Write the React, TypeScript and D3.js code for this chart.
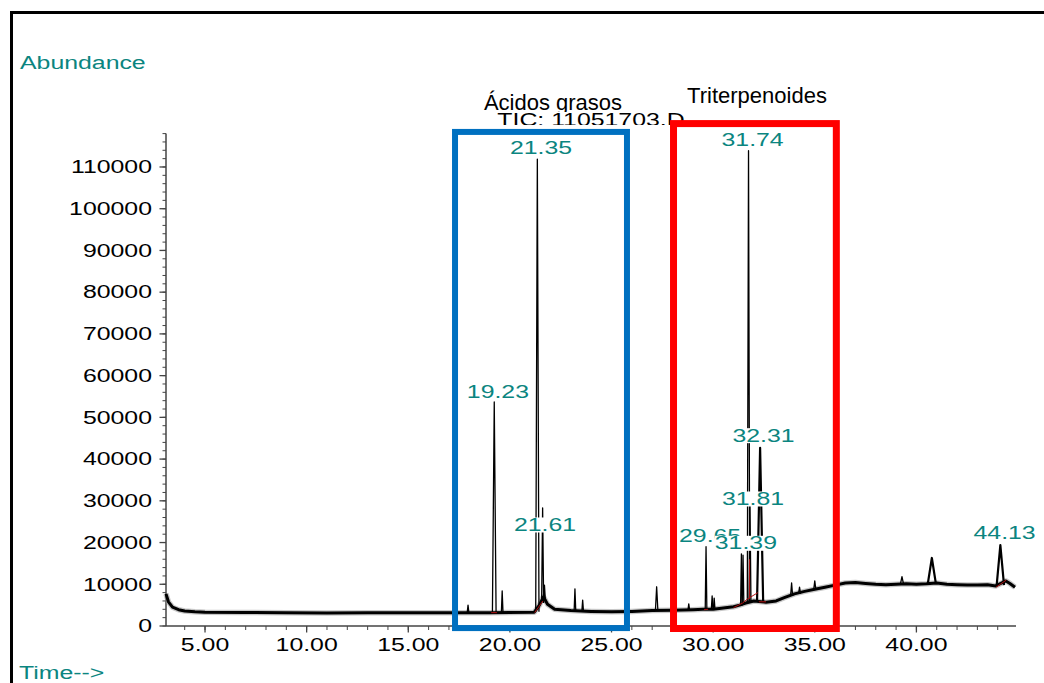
import React from 'react';
import * as d3 from 'd3';

// -- datos del cromatograma (min, abundancia)
const baseline: [number, number][] = [
  [3.08, 7700], [3.2, 5800], [3.4, 4500], [3.7, 3900], [4.0, 3600], [4.5, 3400],
  [5.0, 3300], [7.0, 3250], [9.0, 3150], [11.0, 3100], [13.0, 3150], [15.0, 3200],
  [17.0, 3200], [19.0, 3200], [21.2, 3300], [21.45, 5000], [21.65, 7000], [21.85, 5200],
  [22.2, 4000], [23.0, 3700], [24.0, 3500], [25.0, 3400], [26.0, 3500], [27.0, 3700],
  [28.0, 3800], [29.0, 3900], [29.5, 4000], [30.0, 4000], [30.5, 4300], [31.0, 4600],
  [31.3, 5000], [31.6, 5500], [32.0, 6000], [32.6, 5700], [33.1, 6000], [33.5, 6800],
  [34.0, 7700], [34.5, 8300], [35.0, 8800], [35.5, 9300], [36.0, 9800], [36.5, 10300],
  [37.0, 10400], [37.5, 10200], [38.0, 10000], [38.5, 9900], [39.0, 10000], [39.5, 10100],
  [40.0, 10000], [40.5, 10100], [41.0, 10300], [41.5, 10000], [42.0, 9900], [42.5, 9800],
  [43.0, 9800], [43.5, 9900], [43.9, 9600], [44.4, 10800], [44.6, 10200], [44.85, 9300],
];

// picos: [tiempo ret., abundancia max, nivel base, media anchura (min)]
const peaks: [number, number, number, number][] = [
  [17.94, 5000, 3200, 0.04], [19.23, 53700, 3200, 0.09], [19.62, 8400, 3200, 0.04],
  [21.35, 111900, 3400, 0.08], [21.61, 28300, 5500, 0.05], [21.7, 9800, 6500, 0.04],
  [23.2, 8900, 3600, 0.04], [23.58, 6200, 3500, 0.04], [27.22, 9400, 3700, 0.06],
  [28.8, 5300, 3800, 0.04], [29.65, 19000, 3900, 0.04], [29.95, 7200, 4000, 0.04],
  [30.05, 6700, 4000, 0.04], [31.39, 17300, 4900, 0.04], [31.47, 17000, 5100, 0.04],
  [31.74, 113900, 5600, 0.06], [31.81, 30000, 5800, 0.05], [32.31, 42700, 5900, 0.15],
  [33.86, 10300, 7200, 0.05], [34.25, 9300, 7700, 0.05], [35.0, 10800, 8800, 0.05],
  [39.29, 11800, 10000, 0.08], [40.76, 16300, 10100, 0.2], [44.13, 19400, 9800, 0.18],
];

// etiquetas: [texto, centro (min), linea base (abundancia)]
const peakLabels: [string, number, number][] = [
  ['21.35', 21.53, 113100], ['31.74', 31.94, 115000], ['19.23', 19.41, 54640],
  ['21.61', 21.73, 22770], ['29.65', 29.85, 20200], ['31.39', 31.61, 18380],
  ['31.81', 31.96, 29000], ['32.31', 32.48, 44170], ['44.13', 44.34, 20780],
];

// lineas base de integracion (rojas)
const integration: [number, number][][] = [
  [[19.08, 3200], [19.36, 3200]],
  [[21.22, 3200], [21.62, 6000]],
  [[29.55, 3900], [29.75, 4000]],
  [[31.0, 4400], [31.45, 5500], [31.72, 6600], [31.79, 6600], [31.79, 16000]],
  [[31.8, 6800], [32.2, 8000]],
  [[32.25, 5800], [32.6, 5800]],
  [[43.92, 9300], [44.42, 11000]],
];

// cajas de anotacion: [t0, t1, a0, a1]
const boxAcidos = [17.3, 25.76, -500, 118400];
const boxTriterp = [28.05, 36.06, -600, 120400];

const xMajor = [5, 10, 15, 20, 25, 30, 35, 40];
const xMinor = d3.range(4, 45, 1);
const yMajor = d3.range(0, 110001, 10000);
const yMinor = d3.range(0, 118001, 2000);

const teal = '#0b8580';
const font = 'Liberation Sans, Arial, sans-serif';
const SX = 1.38; // texto del cromatograma estirado

const SText = ({ x, y, anchor = 'start', fill = '#000', size = 18, children }: any) => (
  <text
    transform={`translate(${x},${y}) scale(${SX},1)`}
    textAnchor={anchor}
    fontSize={size}
    fill={fill}
    fontFamily={font}
  >
    {children}
  </text>
);

export default function App() {
  const x = d3.scaleLinear().domain([3.08, 44.9]).range([166, 1016]);
  const y = d3.scaleLinear().domain([0, 118000]).range([626, 133.6]);
  const line = d3.line<[number, number]>().x(d => x(d[0])).y(d => y(d[1]));

  const peakPath = (p: [number, number, number, number]) => {
    const [rt, top, base, hw] = p;
    return line([[rt - hw, base], [rt, top], [rt + hw, base]]);
  };

  const labelW = 62;

  return (
    <div style={{ position: 'absolute', left: 0, top: 0 }}>
      <svg width={1044} height={683} style={{ display: 'block', background: '#fff' }}>
        <defs>
          <clipPath id="ticClip">
            <rect x={0} y={0} width={1044} height={125} />
          </clipPath>
        </defs>
        {/* marco */}
        <rect x={11.5} y={12.5} width={1050} height={700} fill="none" stroke="#000" strokeWidth={3} />

        <SText x={20} y={69} fill={teal}>Abundance</SText>
        <SText x={19} y={679} fill={teal}>Time--&gt;</SText>

        {/* eje y */}
        <line x1={166} x2={166} y1={y(118000)} y2={y(0)} stroke="#444" strokeWidth={1.5} />
        {yMinor.map(v => (
          <line key={'ym' + v} x1={162.5} x2={166} y1={y(v)} y2={y(v)} stroke="#444" strokeWidth={1} />
        ))}
        {yMajor.map(v => (
          <g key={'y' + v}>
            <line x1={159.5} x2={166} y1={y(v)} y2={y(v)} stroke="#444" strokeWidth={1.3} />
            <SText x={152} y={y(v) + 6.3} anchor="end">{v}</SText>
          </g>
        ))}

        {/* eje x */}
        <line x1={166} x2={1016} y1={y(0)} y2={y(0)} stroke="#444" strokeWidth={1.5} />
        {xMinor.map(v => (
          <line key={'xm' + v} x1={x(v)} x2={x(v)} y1={y(0)} y2={y(0) + 4} stroke="#444" strokeWidth={1} />
        ))}
        {xMajor.map(v => (
          <g key={'x' + v}>
            <line x1={x(v)} x2={x(v)} y1={y(0)} y2={y(0) + 6.5} stroke="#444" strokeWidth={1.3} />
            <SText x={x(v)} y={651} anchor="middle">{v.toFixed(2)}</SText>
          </g>
        ))}

        {/* traza: ruido de linea base */}
        <path d={line(baseline) || ''} fill="none" stroke="#999" strokeOpacity={0.55} strokeWidth={5.5} strokeLinejoin="round" />
        <path d={line(baseline) || ''} fill="none" stroke="#000" strokeWidth={3} strokeLinejoin="round" />
        {peaks.map((p, i) => (
          <path
            key={'p' + i}
            d={peakPath(p) || ''}
            fill="none"
            stroke="#000"
            strokeWidth={p[3] >= 0.15 ? 2.2 : 1.3}
            strokeLinejoin="round"
          />
        ))}
        {integration.map((seg, i) => (
          <path key={'r' + i} d={line(seg) || ''} fill="none" stroke="#b01010" strokeWidth={1} />
        ))}

        {/* etiquetas de picos */}
        {peakLabels.map(([t, c, a]) => (
          <g key={t}>
            <rect x={x(c) - labelW / 2} y={y(a) - 13.5} width={labelW} height={15} fill="#fff" />
            <SText x={x(c)} y={y(a)} anchor="middle" fill={teal}>{t}</SText>
          </g>
        ))}

        {/* anotaciones */}
        <text x={553} y={110} textAnchor="middle" fontSize={22} fontFamily={font} fill="#000">Ácidos grasos</text>
        <rect x={490} y={112} width={200} height={14} fill="#fff" />
        <g clipPath="url(#ticClip)">
          <SText x={591} y={126} anchor="middle">TIC: 11051703.D</SText>
        </g>
        <text x={757} y={103} textAnchor="middle" fontSize={22} fontFamily={font} fill="#000">Triterpenoides</text>

        <rect
          x={x(boxAcidos[0])}
          y={y(boxAcidos[3])}
          width={x(boxAcidos[1]) - x(boxAcidos[0])}
          height={y(boxAcidos[2]) - y(boxAcidos[3])}
          fill="none"
          stroke="#0070c0"
          strokeWidth={6}
        />
        <rect
          x={x(boxTriterp[0])}
          y={y(boxTriterp[3])}
          width={x(boxTriterp[1]) - x(boxTriterp[0])}
          height={y(boxTriterp[2]) - y(boxTriterp[3])}
          fill="none"
          stroke="#ff0000"
          strokeWidth={7}
        />
      </svg>
    </div>
  );
}
